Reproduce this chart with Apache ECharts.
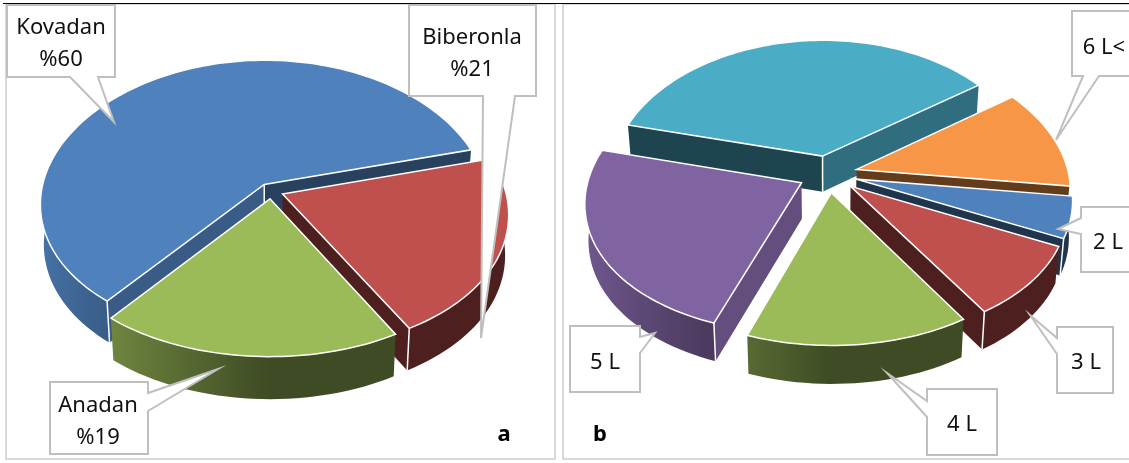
<!DOCTYPE html>
<html>
<head>
<meta charset="utf-8">
<style>html,body{margin:0;padding:0;background:#fff}#chart{width:1129px;height:463px}</style>
<script src="https://cdn.jsdelivr.net/npm/echarts@6/dist/echarts.min.js"></script>
</head>
<body>
<div id="chart"></div>
<script>
// Slices are listed counter-clockwise from each pie's start angle.
const categoriesA = ['Kovadan', 'Anadan', 'Biberonla'];
const valuesA = [60, 19, 21];
const colorsA = ['#4F81BD', '#9BBB59', '#C0504D'];

const categoriesB = ['1 L', '5 L', '4 L', '3 L', '2 L', '6 L<'];
const valuesB = [36, 23.5, 14.5, 9, 5, 12];
const colorsB = ['#4BACC6', '#8064A2', '#9BBB59', '#C0504D', '#4F81BD', '#F79646'];

const pieA = { cx: 271, cy: 191, rx: 223, ry: 139, depth: 40, explode: 0.056, start: 15 };
const pieB = { cx: 828, cy: 174, rx: 212, ry: 132, depth: 36, explode: 0.14, start: 36 };
const perspX = 0.14, perspY = 0.108;

const FONT = '"Noto Sans", "Open Sans", sans-serif';
const RAD = Math.PI / 180;

function shade(hex, f) {
  const n = parseInt(hex.slice(1), 16);
  const c = [n >> 16, (n >> 8) & 255, n & 255].map(v => Math.round(v * f));
  return 'rgb(' + c.join(',') + ')';
}

// Disc coordinates to screen, with a mild perspective so the near edge is larger.
function project(pie, u, v) {
  return [pie.cx + pie.rx * u / (1 + perspX * v), pie.cy - pie.ry * v / (1 + perspY * v)];
}
function lower(pie, p, u, v) {
  return [pie.cx + (p[0] - pie.cx) * 0.985, p[1] + pie.depth * Math.sqrt(1 / (1 + perspY * v))];
}

// Turns a value list into slices with angles, sorted back to front for painting.
function buildSlices(values, colors, names, pie) {
  const total = values.reduce((a, b) => a + b, 0);
  let a = pie.start;
  const out = values.map((val, i) => {
    const sweep = val / total * 360;
    const item = { name: names[i], value: val, color: colors[i], from: a, to: a + sweep };
    a += sweep;
    return item;
  });
  out.sort((p, q) => Math.sin((q.from + q.to) / 2 * RAD) - Math.sin((p.from + p.to) / 2 * RAD));
  return out;
}

function radialShade(normalDeg) {
  const c = Math.cos(normalDeg * RAD);
  return c < 0 ? 0.4 : 0.4 + 0.4 * c;
}
function rimShade(deg) {
  const c = Math.cos(deg * RAD);
  return c < 0 ? 0.4 + 0.5 * -c : 0.4;
}

function sliceShapes(pie, sl) {
  const mid = (sl.from + sl.to) / 2 * RAD;
  const ox = pie.explode * Math.cos(mid), oy = pie.explode * Math.sin(mid);
  const rimPoint = d => [ox + Math.cos(d * RAD), oy + Math.sin(d * RAD)];
  const apexTop = project(pie, ox, oy);
  const apexLow = lower(pie, apexTop, ox, oy);
  const children = [];
  const white = (a, b) => ({
    type: 'polyline', shape: { points: [a, b] },
    style: { stroke: '#fff', lineWidth: 1.5, fill: null }
  });

  // flat cut faces running from the apex to the rim
  const faces = [
    { deg: sl.from, normal: sl.from - 90 },
    { deg: sl.to, normal: sl.to + 90 }
  ];
  const shown = faces.filter(f => Math.sin(f.normal * RAD) < 0);
  shown.forEach(f => {
    const [u, v] = rimPoint(f.deg);
    const top = project(pie, u, v), low = lower(pie, top, u, v);
    children.push({
      type: 'polygon', shape: { points: [apexTop, top, low, apexLow] },
      style: { fill: shade(sl.color, radialShade(f.normal)) }
    });
  });

  // curved outer wall, only where it faces the viewer
  const ranges = [[180, 360], [540, 720]];
  ranges.forEach(([lo, hi]) => {
    const a = Math.max(sl.from, lo), b = Math.min(sl.to, hi);
    if (b <= a) return;
    const steps = Math.max(4, Math.ceil((b - a) / 2));
    const tops = [], lows = [], degs = [];
    for (let i = 0; i <= steps; i++) {
      const d = a + (b - a) * i / steps;
      const [u, v] = rimPoint(d);
      const t = project(pie, u, v);
      tops.push(t); lows.push(lower(pie, t, u, v)); degs.push(d);
    }
    const xs = tops.map(p => p[0]);
    const xMin = Math.min.apply(null, xs), xMax = Math.max.apply(null, xs);
    const stops = tops.map((p, i) => ({
      offset: (p[0] - xMin) / ((xMax - xMin) || 1),
      color: shade(sl.color, rimShade(degs[i]))
    })).sort((p, q) => p.offset - q.offset);
    children.push({
      type: 'polygon', shape: { points: tops.concat(lows.slice().reverse()) },
      style: { fill: new echarts.graphic.LinearGradient(0, 0, 1, 0, stops) }
    });
  });

  // bright seams on the vertical edges between visible faces
  shown.forEach(f => {
    const [u, v] = rimPoint(f.deg);
    const top = project(pie, u, v);
    const s = Math.sin(f.deg * RAD);
    if (s < 0.02) children.push(white(top, lower(pie, top, u, v)));
  });
  if (shown.length === 2) children.push(white(apexTop, apexLow));

  // top face
  const outline = [apexTop];
  const n = Math.ceil((sl.to - sl.from) / 1.5);
  for (let i = 0; i <= n; i++) {
    const [u, v] = rimPoint(sl.from + (sl.to - sl.from) * i / n);
    outline.push(project(pie, u, v));
  }
  children.push({
    type: 'polygon', shape: { points: outline },
    style: { fill: sl.color, stroke: '#fff', lineWidth: 1.5, lineJoin: 'miter' }
  });
  return { type: 'group', children };
}

function pieSeries(values, colors, names, pie) {
  const slices = buildSlices(values, colors, names, pie);
  return {
    type: 'custom',
    coordinateSystem: 'none',
    silent: true,
    animation: false,
    z: 2,
    data: slices.map(s => ({ name: s.name, value: s.value })),
    renderItem: params => sliceShapes(pie, slices[params.dataIndex])
  };
}

// Speech-bubble labels: box corners, then the pointer's base and tip on the named side.
const callouts = [
  { text: categoriesA[0] + '\n%' + valuesA[0], box: [7, 5, 115, 77], side: 'bottom', ptr: [[70, 77], [114, 122], [98, 77]], at: [61, 44] },
  { text: categoriesA[2] + '\n%' + valuesA[2], box: [409, 5, 536, 96], side: 'bottom', ptr: [[483, 96], [481, 338], [515, 96]], at: [472, 54] },
  { text: categoriesA[1] + '\n%' + valuesA[1], box: [50, 382, 148, 454], side: 'right', ptr: [[148, 393], [218, 369], [148, 411]], at: [98, 422] },
  { text: categoriesB[5], box: [1072, 11, 1140, 76], side: 'bottom', ptr: [[1083, 76], [1056, 140], [1099, 76]], at: [1104, 47.5] },
  { text: categoriesB[4], box: [1081, 207, 1140, 272], side: 'left', ptr: [[1081, 218], [1058, 229], [1081, 234]], at: [1108, 242.5] },
  { text: categoriesB[3], box: [1057, 327, 1113, 393], side: 'left', ptr: [[1057, 338], [1030, 315], [1057, 354]], at: [1086, 362.5] },
  { text: categoriesB[2], box: [927, 389, 997, 455], side: 'left', ptr: [[927, 401], [887, 373], [927, 417]], at: [962, 425] },
  { text: categoriesB[1], box: [570, 326, 640, 392], side: 'right', ptr: [[640, 337], [655, 333], [640, 353]], at: [605, 363] }
];

function calloutPath(c) {
  const [x0, y0, x1, y1] = c.box;
  const corners = { bottom: [[x0, y0], [x1, y0], [x1, y1]], right: [[x0, y1], [x0, y0], [x1, y0]], left: [[x1, y0], [x1, y1], [x0, y1]] };
  const closing = { bottom: [[x0, y1]], right: [[x1, y1]], left: [[x0, y0]] };
  const pointer = c.side === 'right' ? c.ptr : c.ptr.slice().reverse();
  return corners[c.side].concat(pointer, closing[c.side]);
}

const frame = { stroke: '#D9D9D9', lineWidth: 2, fill: null };
const graphicElements = [
  { type: 'rect', z: 1, shape: { x: 6, y: 4, width: 549, height: 455 }, style: frame },
  { type: 'rect', z: 1, shape: { x: 563, y: 4, width: 580, height: 455 }, style: frame },
  { type: 'line', z: 5, shape: { x1: 3, y1: 3.5, x2: 1129, y2: 3.5 }, style: { stroke: '#000', lineWidth: 1.2 } }
];
callouts.forEach(c => {
  graphicElements.push({
    type: 'polygon', z: 10, shape: { points: calloutPath(c) },
    style: { fill: '#fff', stroke: '#BFBFBF', lineWidth: 2, lineJoin: 'miter' }
  });
  graphicElements.push({
    type: 'text', z: 11, x: c.at[0], y: c.at[1],
    style: { text: c.text, font: '22px ' + FONT, fill: '#111', align: 'center', verticalAlign: 'middle', lineHeight: 32 }
  });
});
[['a', 504, 435], ['b', 600, 435]].forEach(([t, x, y]) => {
  graphicElements.push({
    type: 'text', z: 11, x, y,
    style: { text: t, font: 'bold 22px ' + FONT, fill: '#000', align: 'center', verticalAlign: 'middle' }
  });
});

const chart = echarts.init(document.getElementById('chart'), null, { renderer: 'canvas' });
chart.setOption({
  backgroundColor: '#fff',
  animation: false,
  series: [
    pieSeries(valuesA, colorsA, categoriesA, pieA),
    pieSeries(valuesB, colorsB, categoriesB, pieB)
  ],
  graphic: { elements: graphicElements }
});
</script>
</body>
</html>
